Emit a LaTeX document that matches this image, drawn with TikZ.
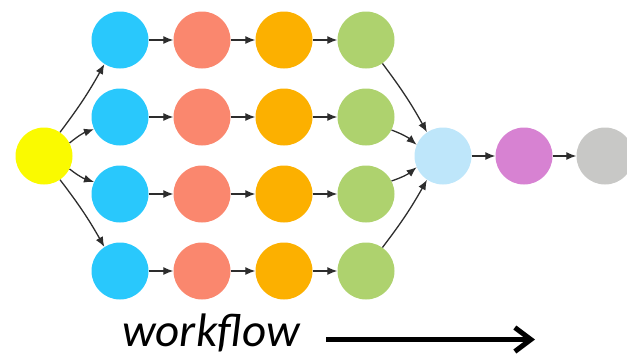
\documentclass[tikz,border=0pt]{standalone}
\usepackage{fontspec}
\newfontfamily\calib{Carlito}
\usetikzlibrary{arrows.meta}
\definecolor{cyellow}{RGB}{250,250,0}
\definecolor{cblue}{RGB}{41,200,252}
\definecolor{csalmon}{RGB}{250,135,110}
\definecolor{corange}{RGB}{252,176,0}
\definecolor{cgreen}{RGB}{174,210,110}
\definecolor{clblue}{RGB}{190,230,250}
\definecolor{cpurple}{RGB}{215,130,210}
\definecolor{cgray}{RGB}{200,200,198}
\definecolor{edgecol}{RGB}{45,45,45}
\tikzset{
  dot/.style={circle, minimum size=57pt, inner sep=0pt, draw=none},
  link/.style={draw=edgecol, line width=1.3pt, -{Latex[length=10pt,width=8pt]}},
  flowarrow/.style={draw=black, line width=5.5pt, -{Straight Barb[length=16pt,width=24pt,line width=5pt]}}
}
\begin{document}
\begin{tikzpicture}[x=1pt,y=-1pt]
\useasboundingbox (0,0) rectangle (627,357);
\node[dot, fill=cyellow] (y) at (44,156) {};
\foreach \r/\yy in {1/40,2/117,3/194,4/271}{
  \node[dot, fill=cblue]   (b\r) at (120,\yy) {};
  \node[dot, fill=csalmon] (s\r) at (202,\yy) {};
  \node[dot, fill=corange] (o\r) at (284,\yy) {};
  \node[dot, fill=cgreen]  (g\r) at (366,\yy) {};
  \draw[link] (b\r) -- (s\r);
  \draw[link] (s\r) -- (o\r);
  \draw[link] (o\r) -- (g\r);
}
\node[dot, fill=clblue]  (lb) at (443,156) {};
\node[dot, fill=cpurple] (p)  at (524,156) {};
\node[dot, fill=cgray]   (gr) at (605,156) {};
\draw[link] (lb) -- (p);
\draw[link] (p) -- (gr);
\draw[link] (y.56) to[bend right=4] (b1.237);
\draw[link] (y.27) to[bend left=10] (b2.205);
\draw[link] (y.-27) to[bend right=10] (b3.155);
\draw[link] (y.-56) to[bend left=4] (b4.123);
\draw[link] (g1.-55) to[bend left=4] (lb.124);
\draw[link] (g2.-27) to[bend left=10] (lb.157);
\draw[link] (g3.27) to[bend right=10] (lb.203);
\draw[link] (g4.55) to[bend right=4] (lb.236);
\node[font=\calib\itshape\fontsize{47}{56}\selectfont, anchor=base] (wf) at (211,346) {workflow};
\coordinate (fa) at (326,339.5);
\coordinate (fb) at (535,339.5);
\draw[flowarrow] (fa) -- (fb);
\end{tikzpicture}
\end{document}
